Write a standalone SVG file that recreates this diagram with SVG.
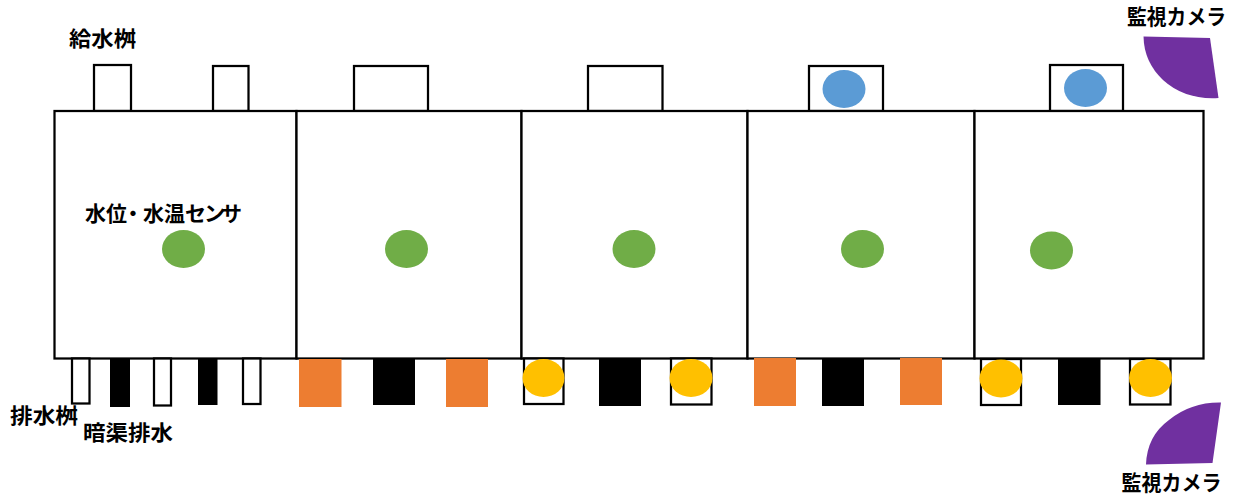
<svg xmlns="http://www.w3.org/2000/svg" width="1236" height="497" viewBox="0 0 1236 497">
<style>
.b{fill:#fff;stroke:#000;stroke-width:2.25}
.k{fill:#000}
.o{fill:#ed7d31}
.y{fill:#ffc000}
.g{fill:#70ad47}
.c{fill:#5b9bd5}
.p{fill:#7030a0}
text{font-family:"Noto Sans CJK JP","Noto Sans",sans-serif;font-weight:700;font-size:21px;fill:#000}
</style>
<rect width="1236" height="497" fill="#fff"/>
<g id="supply-basins">
<rect class="b" x="94" y="65" width="37" height="46"/>
<rect class="b" x="213" y="66" width="35.500" height="45"/>
<rect class="b" x="354" y="66" width="74" height="45"/>
<rect class="b" x="588" y="66" width="74.500" height="45"/>
<rect class="b" x="809" y="66" width="74" height="45"/>
<rect class="b" x="1050" y="65" width="73" height="46"/>
</g>
<g id="paddies">
<rect class="b" x="54.500" y="111" width="242" height="247.500"/>
<rect class="b" x="296.500" y="111" width="225" height="247.500"/>
<rect class="b" x="521.500" y="111" width="226" height="247.500"/>
<rect class="b" x="747.500" y="111" width="227" height="247.500"/>
<rect class="b" x="974.500" y="111" width="229" height="247.500"/>
</g>
<g id="sensors">
<ellipse class="g" cx="183.500" cy="249" rx="21.500" ry="19"/>
<ellipse class="g" cx="406.500" cy="249" rx="21.500" ry="19"/>
<ellipse class="g" cx="634" cy="249" rx="21.500" ry="19"/>
<ellipse class="g" cx="862.500" cy="249" rx="21.500" ry="19"/>
<ellipse class="g" cx="1051.500" cy="250.500" rx="21.500" ry="19"/>
<ellipse class="c" cx="844" cy="89" rx="21.500" ry="19"/>
<ellipse class="c" cx="1085.500" cy="88" rx="21.500" ry="19"/>
</g>
<g id="drain-basins">
<rect class="b" x="72" y="358.500" width="17.500" height="45"/>
<rect class="k" x="110" y="358" width="20" height="49"/>
<rect class="b" x="154" y="358.500" width="17" height="47"/>
<rect class="k" x="198" y="358" width="19.500" height="47"/>
<rect class="b" x="243" y="358.500" width="17.500" height="45.500"/>
<rect class="o" x="299" y="359" width="42.500" height="48"/>
<rect class="k" x="373" y="358" width="42" height="47"/>
<rect class="o" x="446" y="359" width="42" height="48"/>
<rect class="b" x="524" y="358.500" width="39.500" height="45.500"/>
<ellipse class="y" cx="543.500" cy="378" rx="21" ry="19"/>
<rect class="k" x="599" y="358" width="42" height="48"/>
<rect class="b" x="671" y="358.500" width="40.500" height="46"/>
<ellipse class="y" cx="691" cy="378" rx="21.500" ry="19"/>
<rect class="o" x="754" y="358" width="42" height="48"/>
<rect class="k" x="822" y="358" width="42" height="48"/>
<rect class="o" x="900" y="358" width="42" height="47"/>
<rect class="b" x="981" y="359" width="40" height="46"/>
<ellipse class="y" cx="1001" cy="378.500" rx="21.500" ry="19"/>
<rect class="k" x="1058" y="358" width="42.500" height="47"/>
<rect class="b" x="1130" y="359" width="40.500" height="45.500"/>
<ellipse class="y" cx="1150.500" cy="378" rx="21.500" ry="19"/>
</g>
<g id="cameras">
<path class="p" d="M1143.500 36.500 L1210 38 L1218.500 98 Q1185 100 1163 80 Q1144 62 1143.500 36.500 Z"/>
<path class="p" d="M1146 464.500 Q1147 436 1169 420 Q1191 402 1221 402.500 L1212.500 463 Z"/>
</g>
<g id="labels">
<text x="69" y="46" textLength="67" lengthAdjust="spacingAndGlyphs">給水桝</text>
<text x="85 106 122.500 143 164 185 204 221" y="221">水位・水温センサ</text>
<text x="1127" y="24" textLength="99" lengthAdjust="spacingAndGlyphs">監視カメラ</text>
<text x="10" y="423" textLength="68" lengthAdjust="spacingAndGlyphs">排水桝</text>
<text x="83" y="439.500" textLength="90" lengthAdjust="spacingAndGlyphs">暗渠排水</text>
<text x="1121.500" y="490" textLength="100" lengthAdjust="spacingAndGlyphs">監視カメラ</text>
</g>
<g id="connectors"></g>
</svg>
